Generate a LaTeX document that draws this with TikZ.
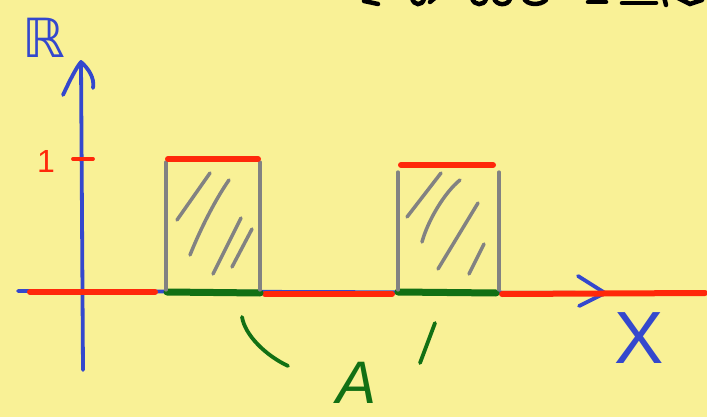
\documentclass[tikz,border=0pt]{standalone}
\usepackage{fontspec}
\setmainfont{Liberation Sans}
\newfontfamily\dejavu{DejaVu Sans}
\definecolor{paper}{RGB}{249,241,150}
\definecolor{penblue}{RGB}{52,72,205}
\definecolor{penred}{RGB}{255,40,10}
\definecolor{pengreen}{RGB}{18,112,20}
\definecolor{pengray}{RGB}{130,130,130}
\tikzset{
  axis/.style={penblue, line width=3.8pt, line cap=round, line join=round},
  redseg/.style={penred, line width=6pt, line cap=round},
  greenseg/.style={pengreen, line width=7pt, line cap=round},
  boxline/.style={pengray, line width=3.3pt, line cap=round},
  hatch/.style={pengray, line width=3.5pt, line cap=round},
  brace/.style={pengreen, line width=3.8pt, line cap=round},
  ink/.style={black, line width=4.5pt, line cap=round},
}
\begin{document}
\begin{tikzpicture}[x=1pt, y=-1pt]
  \fill[paper] (0,0) rectangle (707,417);
  \useasboundingbox (0,0) rectangle (707,417);
  \begin{scope}
    \clip (0,0) rectangle (707,417);

    % remains of a heading written above the frame
    \draw[ink] (364,1) -- (378,4);
    \draw[ink] (412,-2) .. controls (414,6) and (422,6) .. (424,-1);
    \draw[ink] (430,2) -- (436,-3);
    \draw[ink] (472,-2) .. controls (474,6) and (484,6) .. (486,-1);
    \draw[ink] (494,-2) .. controls (496,6) and (508,6) .. (510,-1);
    \draw[ink] (524,-2) .. controls (526,5) and (540,6) .. (546,0);
    \draw[ink] (588,2) -- (606,2);
    \draw[ink] (622,3) -- (656,3);
    \draw[ink] (664,-3) -- (666,5);
    \draw[ink] (676,-3) -- (690,4) -- (702,0);

    % coordinates of the axes
    \coordinate (ybot) at (83,370);
    \coordinate (ytip) at (81,62);
    \coordinate (xleft) at (18,291);
    \coordinate (xtip) at (605,293);

    % vertical axis
    \draw[axis] (ybot) -- (ytip);
    \draw[axis] (63,95) .. controls (70,80) and (76,68) .. (ytip)
                .. controls (88,68) and (95,78) .. (93,88);
    \node[penblue, font=\dejavu\fontsize{54}{54}\selectfont, inner sep=0pt, anchor=base] (rlabel) at (44,58) {ℝ};

    % tick at height one
    \coordinate (tickL) at (73,159);
    \coordinate (tickR) at (93,159);
    \draw[penred, line width=3.8pt, line cap=round] (tickL) -- (tickR);
    \node[penred, font=\fontsize{32}{32}\selectfont, inner sep=0pt, anchor=base] (one) at (46,172) {1};

    % horizontal axis
    \draw[axis] (xleft) -- (xtip);
    \draw[axis] (578,276) -- (xtip) -- (579,306);
    \node[penblue, font=\fontsize{74}{74}\selectfont, inner sep=0pt, anchor=base] (xlabel) at (639,363) {X};

    % indicator function: zero outside the set
    \draw[redseg] (30,292) -- (155,292);
    \draw[redseg] (265,294) -- (392,294);
    \draw[redseg] (502,294) -- (705,293);

    % the set A on the axis
    \coordinate (a1L) at (167,292);
    \coordinate (a1R) at (260,293);
    \coordinate (a2L) at (398,292);
    \coordinate (a2R) at (496,293);
    \draw[greenseg] (a1L) -- (a1R);
    \draw[greenseg] (a2L) -- (a2R);

    % first shaded block
    \draw[boxline] (166,290) -- (166,162);
    \draw[boxline] (260,290) -- (260,162);
    \draw[redseg] (168,159) -- (258,159);
    \draw[hatch] (210,173) -- (177,220);
    \draw[hatch] (229,180) .. controls (215,200) and (200,230) .. (190,255);
    \draw[hatch] (241,218) -- (213,274);
    \draw[hatch] (252,229) -- (232,267);

    % second shaded block
    \draw[boxline] (398,290) -- (398,172);
    \draw[boxline] (499,290) -- (499,172);
    \draw[redseg] (401,165) -- (493,165);
    \draw[hatch] (441,173) -- (407,217);
    \draw[hatch] (460,180) .. controls (445,192) and (428,220) .. (422,242);
    \draw[hatch] (478,203) -- (438,269);
    \draw[hatch] (484,244) -- (469,274);

    % bracket strokes pointing to the label
    \draw[brace] (242,317) .. controls (245,335) and (265,355) .. (288,366);
    \draw[brace] (435,323) -- (420,363);
    \node[pengreen, font=\itshape\fontsize{60}{60}\selectfont, inner sep=0pt, anchor=base] (alabel) at (357,403) {A};
  \end{scope}
\end{tikzpicture}
\end{document}
